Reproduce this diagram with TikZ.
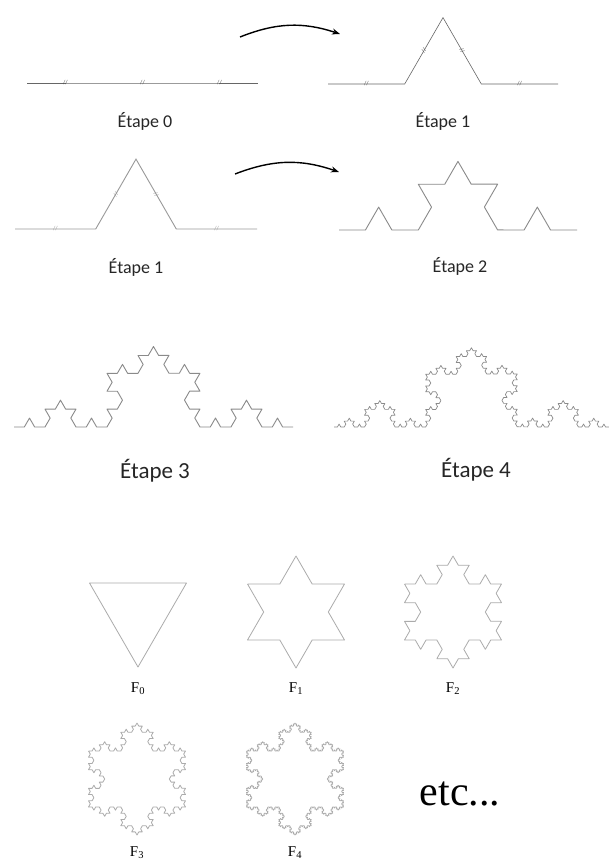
\documentclass[tikz,border=0pt]{standalone}
\usepackage{fontspec}
\setmainfont{Carlito}
\newfontfamily\serifF{Liberation Serif}
\usetikzlibrary{arrows.meta,decorations.fractals}
\definecolor{curve}{HTML}{8A8A8A}
\definecolor{flake}{HTML}{ABABAB}
\definecolor{labtext}{HTML}{262626}

\begin{document}
\begin{tikzpicture}[x=1pt, y=-1pt,
  stagelabel/.style={font=\fontsize{18}{18}\selectfont, text=labtext, anchor=base, inner sep=0pt},
  bigstagelabel/.style={stagelabel, font=\fontsize{23}{23}\selectfont},
  flabel/.style={font=\serifF\fontsize{15}{15}\selectfont, anchor=base, inner sep=0pt},
  seg/.style={draw=black!60, line width=0.6pt},
  koch/.style={draw=curve, line width=0.9pt, line join=round, decoration=Koch snowflake},
  flake/.style={draw=flake, line width=0.8pt, line join=round, decoration=Koch snowflake},
  tickmark/.style={sloped, inner sep=0pt, font=\fontsize{6}{6}\selectfont, text=black!70},
  arr/.style={-{Stealth[length=8pt,width=6pt]}, line width=1.4pt}]
\path[use as bounding box, fill=white] (0,0) rectangle (609,860);

% Etape 0 -> Etape 1
\draw[seg] (27,83) -- node[tickmark] (t01) {//} (104,83) -- node[tickmark] (t02) {//} (181,83)
  -- node[tickmark] (t03) {//} (258,83);
\node[stagelabel] (lab0) at (145,127) {Étape 0};
\coordinate (a1s) at (240,37);
\coordinate (a1e) at (340,34);
\draw[arr] (a1s) to[bend left=20] (a1e);
\draw[seg] (328,84) -- node[tickmark] (t11) {//} (404.7,84) -- node[tickmark] (t12) {//} (443,17.6)
  -- node[tickmark] (t13) {//} (481.3,84) -- node[tickmark] (t14) {//} (558,84);
\node[stagelabel] (lab1) at (443,127) {Étape 1};

% Etape 1 -> Etape 2
\draw[draw=black!40, line width=0.9pt] (15,229) -- node[tickmark, text=black!40] (t21) {//} (95.7,229)
  -- node[tickmark, text=black!40] (t22) {//} (136,159.1) -- node[tickmark, text=black!40] (t23) {//} (176.3,229)
  -- node[tickmark, text=black!40] (t24) {//} (257,229);
\node[stagelabel] (lab1b) at (136,273) {Étape 1};
\coordinate (a2s) at (235,174);
\coordinate (a2e) at (339,172);
\draw[arr] (a2s) to[bend left=20] (a2e);
\draw[koch] decorate{decorate{(339,230) -- (577,230)}};
\node[stagelabel] (lab2) at (460,272) {Étape 2};

% Etape 3 et 4
\draw[koch] decorate{decorate{decorate{(14,427) -- (293,427)}}};
\node[bigstagelabel] (lab3) at (155,478) {Étape 3};
\draw[koch, line width=0.7pt] decorate{decorate{decorate{decorate{(334,427) -- (609,427)}}}};
\node[bigstagelabel] (lab4) at (476,477) {Étape 4};

% flocons
\draw[flake, shift={(138,611)}] (-48.5,-28) -- (48.5,-28) -- (0,56) -- cycle;
\draw[flake, shift={(296,612)}] decorate{(-48.5,-28) -- (48.5,-28) -- (0,56) -- (-48.5,-28)};
\draw[flake, shift={(453,612)}] decorate{decorate{(-48.5,-28) -- (48.5,-28) -- (0,56) -- (-48.5,-28)}};
\draw[flake, shift={(137,779)}] decorate{decorate{decorate{(-48.5,-28) -- (48.5,-28) -- (0,56) -- (-48.5,-28)}}};
\draw[flake, shift={(295,779)}] decorate{decorate{decorate{decorate{(-48.5,-28) -- (48.5,-28) -- (0,56) -- (-48.5,-28)}}}};
\node[flabel] (f0) at (138,692) {F\textsubscript{0}};
\node[flabel] (f1) at (296,692) {F\textsubscript{1}};
\node[flabel] (f2) at (453,692) {F\textsubscript{2}};
\node[flabel] (f3) at (137,856) {F\textsubscript{3}};
\node[flabel] (f4) at (295,856) {F\textsubscript{4}};
\node[font=\serifF\fontsize{42}{42}\selectfont, anchor=base, inner sep=0pt] (etc) at (460,805) {etc...};
\end{tikzpicture}
\end{document}
